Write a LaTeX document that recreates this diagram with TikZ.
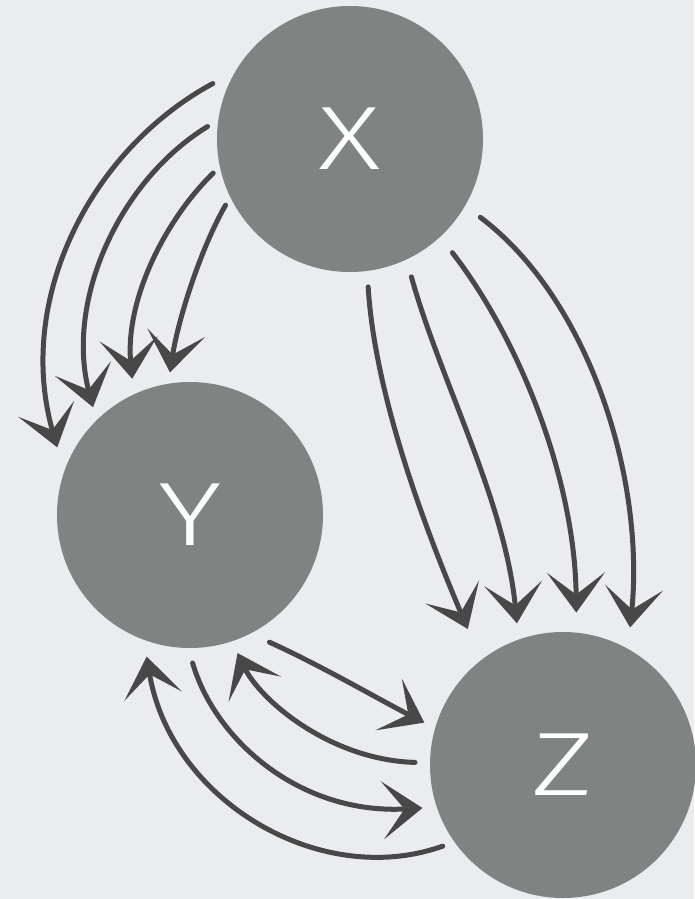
\documentclass[tikz,border=0pt]{standalone}
\usepackage{fontspec}
\newfontfamily\labelfont{Fira Sans Light}[FakeStretch=1.35]
\usetikzlibrary{arrows.meta, calc}
\definecolor{bgpaper}{HTML}{EAECEF}
\definecolor{ballgray}{HTML}{7F8482}
\definecolor{inkgray}{HTML}{484848}

\begin{document}
\begin{tikzpicture}[x=1pt, y=-1pt,
  ball/.style={circle, fill=ballgray, minimum size=266pt, inner sep=0pt,
    text=white, font=\labelfont\fontsize{90}{90}\selectfont},
  sketch/.style={draw=inkgray, line width=5pt, line cap=round,
    -{Stealth[length=40pt, width=58pt, inset=22pt]}}]

  % paper
  \fill[bgpaper] (0,0) rectangle (694,899);
  \useasboundingbox (0,0) rectangle (694,899);

  % the three variables
  \node[ball] (X) at (350,139) {X};
  \node[ball] (Y) at (190,515) {Y};
  \node[ball] (Z) at (563,765) {Z};

  % X -> Y
  \draw[sketch] ($(X)+(158:148pt)$) .. controls (90,150) and (15,300) .. ($(Y)+(153:149pt)$);
  \draw[sketch] ($(X)+(175:143pt)$) .. controls (120,180) and (65,300) .. ($(Y)+(132:145pt)$);
  \draw[sketch] ($(X)+(194:141pt)$) .. controls (165,220) and (125,300) .. ($(Y)+(113:148pt)$);
  \draw[sketch] ($(X)+(208:141pt)$) .. controls (200,250) and (178,320) .. ($(Y)+(98:144pt)$);

  % X -> Z
  \draw[sketch] ($(X)+(277:149pt)$) .. controls (375,400) and (430,540) .. ($(Z)+(125:166pt)$);
  \draw[sketch] ($(X)+(294:151pt)$) .. controls (440,380) and (505,500) .. ($(Z)+(108:149pt)$);
  \draw[sketch] ($(X)+(312:153pt)$) .. controls (520,340) and (575,480) .. ($(Z)+(85:153pt)$);
  \draw[sketch] ($(X)+(329:152pt)$) .. controls (590,300) and (645,480) .. ($(Z)+(64:153pt)$);

  % Y <-> Z
  \draw[sketch] ($(Y)+(302:150pt)$) .. controls (320,665) and (380,700) .. ($(Z)+(163:145pt)$);
  \draw[sketch] ($(Z)+(179:148pt)$) .. controls (330,760) and (260,700) .. ($(Y)+(289:146pt)$);
  \draw[sketch] ($(Y)+(271:148pt)$) .. controls (215,740) and (300,815) .. ($(Z)+(197:147pt)$);
  \draw[sketch] ($(Z)+(214:145pt)$) .. controls (320,890) and (170,800) .. ($(Y)+(253:148pt)$);

\end{tikzpicture}
\end{document}
